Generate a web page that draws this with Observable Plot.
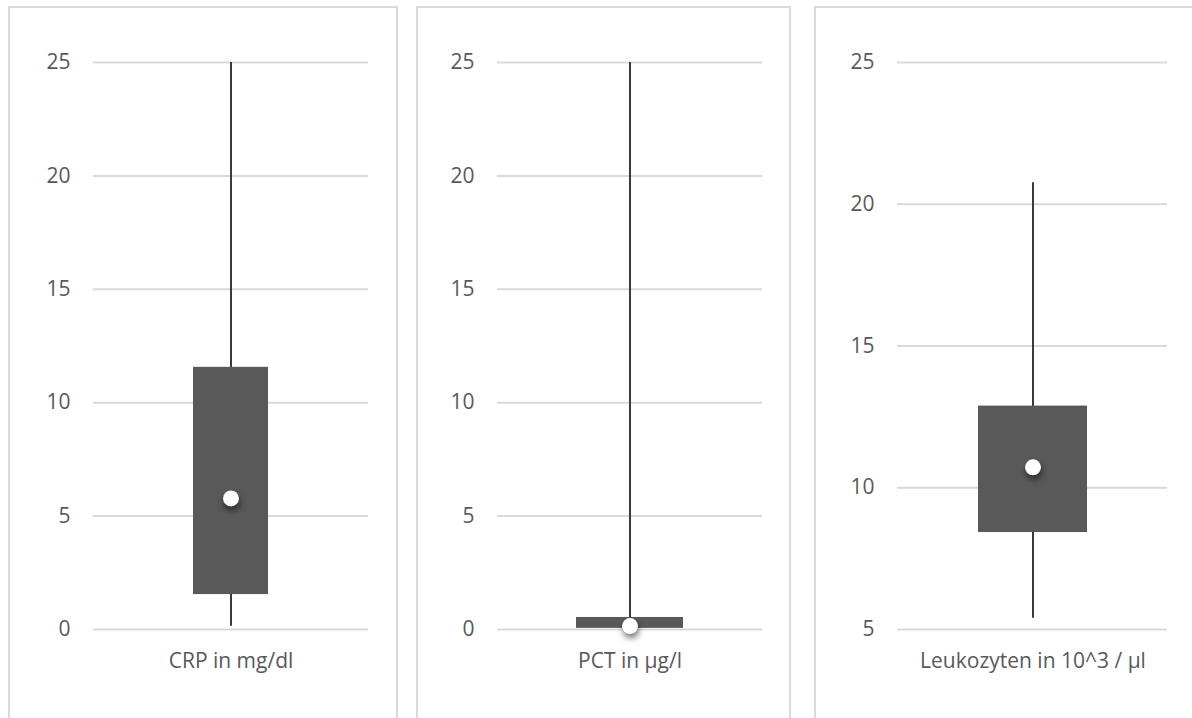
<!DOCTYPE html>
<html>
<head>
<meta charset="utf-8">
<script src="https://cdn.jsdelivr.net/npm/d3@7"></script>
<script src="https://cdn.jsdelivr.net/npm/@observablehq/plot@0.6"></script>
<style>
  html, body { margin: 0; padding: 0; background: #ffffff; }
  #root { position: relative; width: 1192px; height: 718px; overflow: hidden; }
  .frame { position: absolute; border: 2px solid #d9d9d9; box-sizing: border-box; }
  .chart { position: absolute; top: 0; }
</style>
</head>
<body>
<div id="root"></div>
<script>
// ---- data ----
const labels = ["CRP in mg/dl", "PCT in µg/l", "Leukozyten in 10^3 / µl"];
const whiskerLow = [0.14, 0.1, 5.4];
const quartile1 = [1.54, 0.05, 8.42];
const quartile3 = [11.56, 0.53, 12.88];
const whiskerHigh = [25, 25, 20.76];
const means = [5.78, 0.15, 10.72];
const yMin = [0, 0, 5];
const yMax = [25, 25, 25];
const yTicks = [
  [0, 5, 10, 15, 20, 25],
  [0, 5, 10, 15, 20, 25],
  [5, 10, 15, 20, 25]
];

// ---- layout (styles, not data) ----
const frames = [
  {left: 8, top: 6, width: 390, height: 760},
  {left: 416, top: 6, width: 375, height: 760},
  {left: 814, top: 6, width: 400, height: 760}
];
const charts = [
  {left: 0, width: 396, marginLeft: 93, marginRight: 28, padding: 0.5686},
  {left: 400, width: 400, marginLeft: 97, marginRight: 38, padding: 0.4247},
  {left: 800, width: 392, marginLeft: 97, marginRight: 25, padding: 0.4248}
];

const root = document.getElementById("root");

frames.forEach(f => {
  const d = document.createElement("div");
  d.className = "frame";
  Object.assign(d.style, {left: f.left + "px", top: f.top + "px", width: f.width + "px", height: f.height + "px"});
  root.appendChild(d);
});

labels.forEach((label, i) => {
  const row = [{
    label,
    low: whiskerLow[i],
    q1: quartile1[i],
    q3: quartile3[i],
    high: whiskerHigh[i],
    mean: means[i]
  }];
  const c = charts[i];
  const svg = Plot.plot({
    width: c.width,
    height: 718,
    marginLeft: c.marginLeft,
    marginRight: c.marginRight,
    marginTop: 62,
    marginBottom: 89,
    style: {
      fontFamily: "'Open Sans', sans-serif",
      fontSize: "21px",
      color: "#595959",
      background: "transparent",
      overflow: "visible"
    },
    x: {domain: [label], padding: c.padding, label: null, tickSize: 0, tickPadding: 24},
    y: {domain: [yMin[i], yMax[i]], ticks: yTicks[i], label: null, tickSize: 0, tickPadding: 23},
    marks: [
      Plot.gridY(yTicks[i], {stroke: "#d9d9d9", strokeOpacity: 1, strokeWidth: 2}),
      Plot.ruleX(row, {x: "label", y1: "low", y2: "high", stroke: "#3a3a3a", strokeWidth: 2}),
      Plot.barY(row, {x: "label", y1: "q1", y2: "q3", fill: "#595959"}),
      Plot.dot(row, {x: "label", y: "mean", r: 8, fill: "#ffffff", stroke: "none"})
    ]
  });
  svg.classList.add("chart");
  svg.style.left = c.left + "px";
  svg.style.position = "absolute";
  svg.querySelectorAll("circle").forEach(el => {
    el.style.filter = "drop-shadow(1px 4px 3px rgba(0,0,0,0.55))";
  });
  svg.querySelectorAll("text").forEach(t => t.setAttribute("fill", "#595959"));
  root.appendChild(svg);
});
</script>
</body>
</html>
